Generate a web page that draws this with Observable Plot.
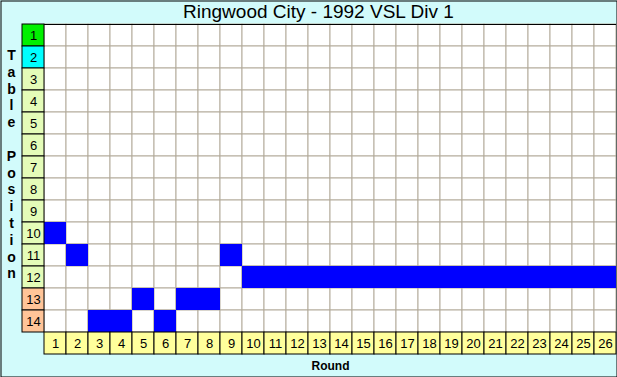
<!DOCTYPE html>
<html><head><meta charset="utf-8">
<script src="https://cdn.jsdelivr.net/npm/d3@7"></script>
<script src="https://cdn.jsdelivr.net/npm/@observablehq/plot@0.6"></script>
<style>body{margin:0;background:#fff}</style>
</head><body><div id="chart"></div>
<script>
const title = "Ringwood City - 1992 VSL Div 1";
const yTitle = "Table Position";
const xTitle = "Round";
const rounds = d3.range(1, 27);
const positions = d3.range(1, 15);
const standing = [10, 11, 14, 14, 13, 14, 13, 13, 11, 12, 12, 12, 12, 12, 12, 12, 12, 12, 12, 12, 12, 12, 12, 12, 12, 12];
const posColor = p => p === 1 ? "#00f000" : p === 2 ? "#00ffff" : p >= 13 ? "#ffc498" : "#e4fcb8";

const W = 617, H = 377;
const cells = [];
for (const r of rounds) for (const p of positions) cells.push({r, p});
const hits = rounds.map((r, i) => ({r, p: standing[i]}));
const letters = Array.from(yTitle).map((c, i) => ({c, i}));

const chart = Plot.plot({
  width: W, height: H,
  margin: 0, marginTop: 0, marginLeft: 0, marginRight: 0, marginBottom: 0,
  x: {type: "linear", domain: [-1, 26], range: [22, 616], axis: null},
  y: {type: "linear", domain: [0, 15], range: [24, 354], axis: null},
  style: {fontFamily: "Liberation Sans, Arial, sans-serif", background: "#d2fbfb"},
  marks: [
    Plot.rect(cells, {x1: d => d.r - 1, x2: d => d.r, y1: d => d.p - 1, y2: d => d.p, fill: "white", stroke: "#b4ac9c", strokeWidth: 1}),
    Plot.rect(hits, {x1: d => d.r - 1, x2: d => d.r, y1: d => d.p - 1, y2: d => d.p, fill: "#0000ff"}),
    Plot.ruleY([0], {x1: -1, x2: 26, stroke: "black"}),
    Plot.rect(positions, {x1: -1, x2: 0, y1: d => d - 1, y2: d => d, fill: posColor, stroke: "black"}),
    Plot.text(positions, {x: -0.5, y: d => d - 0.5, text: d => String(d), fontSize: 13, fill: "black"}),
    Plot.rect(rounds, {x1: d => d - 1, x2: d => d, y1: 14, y2: 15, fill: "#ffff9c", stroke: "black"}),
    Plot.text(rounds, {x: d => d - 0.5, y: 14.5, text: d => String(d), fontSize: 13, fill: "black"}),
    Plot.text([title], {x: 12.45, y: -0.56, text: d => d, fontSize: 19, fill: "black"}),
    Plot.text([xTitle], {x: 13, y: 15.5, dy: 1, text: d => d, fontSize: 12, fontWeight: "bold", fill: "black"}),
    Plot.text(letters, {x: -1.5, y: d => ((55 + 16.8 * d.i) - 24) / 22, text: d => d.c, textAnchor: "middle", fontSize: 14, fontWeight: "bold", fill: "black"}),
    Plot.frame({stroke: "black", inset: 0.5})
  ]
});
document.getElementById("chart").append(chart);
</script>
</body></html>
